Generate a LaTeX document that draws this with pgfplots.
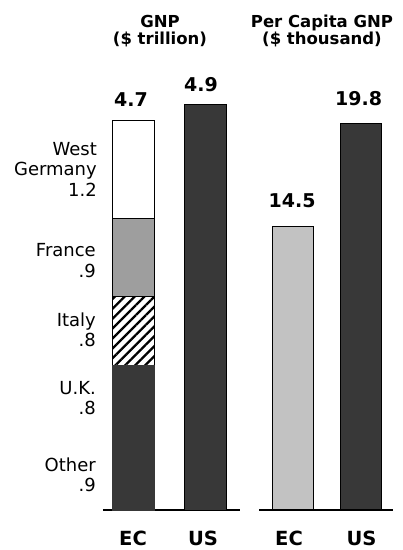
\documentclass[border=0pt]{standalone}
\usepackage{pgfplots}
\pgfplotsset{compat=1.18}
\usepackage{fontspec}
\setmainfont{DejaVu Sans}
\usetikzlibrary{patterns.meta}

\definecolor{darkbar}{gray}{0.22}
\definecolor{midgray}{gray}{0.62}
\definecolor{lightgray}{gray}{0.76}

\newcommand{\lbl}{\fontsize{18}{21}\selectfont}
\newcommand{\ttl}{\fontsize{16.5}{17}\selectfont\bfseries}
\newcommand{\val}{\fontsize{19}{21}\selectfont\bfseries}
\newcommand{\cat}{\fontsize{19.5}{21}\selectfont\bfseries}

\begin{document}
\begin{tikzpicture}
\useasboundingbox (0,0) rectangle (403pt,-550pt);

% titles
\node[anchor=base,font=\ttl] at (160pt,-27pt) {GNP};
\node[anchor=base,font=\ttl] at (160pt,-44pt) {(\$ trillion)};
\node[anchor=base,font=\ttl] at (322pt,-27pt) {Per Capita GNP};
\node[anchor=base,font=\ttl] at (322pt,-44pt) {(\$ thousand)};

% segment labels for the EC stack
\begin{scope}[every node/.style={anchor=base east,font=\lbl,inner sep=0pt}]
\node at (97pt,-155pt) {West};
\node at (97pt,-175pt) {Germany};
\node at (97pt,-196pt) {1.2};
\node at (96pt,-256pt) {France};
\node at (96pt,-277pt) {.9};
\node at (96pt,-326pt) {Italy};
\node at (96pt,-346pt) {.8};
\node at (96pt,-394pt) {U.K.};
\node at (96pt,-414pt) {.8};
\node at (96pt,-471pt) {Other};
\node at (96pt,-491pt) {.9};
\end{scope}

% GNP ($ trillion)
\begin{axis}[
    at={(103pt,-510pt)}, anchor=south west,
    scale only axis,
    width=137pt, height=414pt,
    xmin=-0.417, xmax=1.486,
    ymin=0, ymax=5,
    hide axis,
    clip=false,
    ybar stacked,
    bar width=42pt,
]
\addplot[fill=darkbar, draw=darkbar, line width=0.8pt] coordinates {(0,0.93) (1,0)};   % Other
\addplot[fill=darkbar, draw=darkbar, line width=0.8pt] coordinates {(0,0.82) (1,0)};   % U.K.
\addplot[pattern={Lines[angle=45,distance=7pt,line width=2.3pt]}, draw=black, line width=0.8pt] coordinates {(0,0.83) (1,0)}; % Italy
\addplot[fill=midgray, draw=black, line width=0.8pt] coordinates {(0,0.94) (1,0)};     % France
\addplot[fill=white, draw=black, line width=0.8pt] coordinates {(0,1.18) (1,0)};       % West Germany
\addplot[fill=darkbar, draw=black, line width=0.8pt] coordinates {(0,0) (1,4.9)};      % US
\draw[line width=2.5pt] (rel axis cs:0,0) -- (rel axis cs:1,0);
\node[anchor=base,font=\val,xshift=-2pt,yshift=14pt] at (axis cs:0,4.7) {4.7};
\node[anchor=base,font=\val,xshift=-4pt,yshift=13pt] at (axis cs:1,4.9) {4.9};
\node[anchor=base,font=\cat,yshift=-35pt] at (axis cs:0,0) {EC};
\node[anchor=base,font=\cat,xshift=-2pt,yshift=-35pt] at (axis cs:1,0) {US};
\end{axis}

% Per capita GNP ($ thousand)
\begin{axis}[
    at={(259pt,-510pt)}, anchor=south west,
    scale only axis,
    width=134pt, height=430.1pt,
    xmin=-0.504, xmax=1.481,
    ymin=0, ymax=22,
    hide axis,
    clip=false,
    ybar,
    bar width=41pt,
]
\addplot[bar shift=0pt, fill=lightgray, draw=black, line width=0.8pt] coordinates {(0,14.5)};
\addplot[bar shift=0pt, fill=darkbar, draw=black, line width=0.8pt] coordinates {(1,19.8)};
\draw[line width=2.5pt] (rel axis cs:0,0) -- (rel axis cs:1,0);
\node[anchor=base,font=\val,xshift=-1pt,yshift=19pt] at (axis cs:0,14.5) {14.5};
\node[anchor=base,font=\val,xshift=-2pt,yshift=17pt] at (axis cs:1,19.8) {19.8};
\node[anchor=base,font=\cat,xshift=-4pt,yshift=-35pt] at (axis cs:0,0) {EC};
\node[anchor=base,font=\cat,xshift=1pt,yshift=-35pt] at (axis cs:1,0) {US};
\end{axis}
\end{tikzpicture}
\end{document}
